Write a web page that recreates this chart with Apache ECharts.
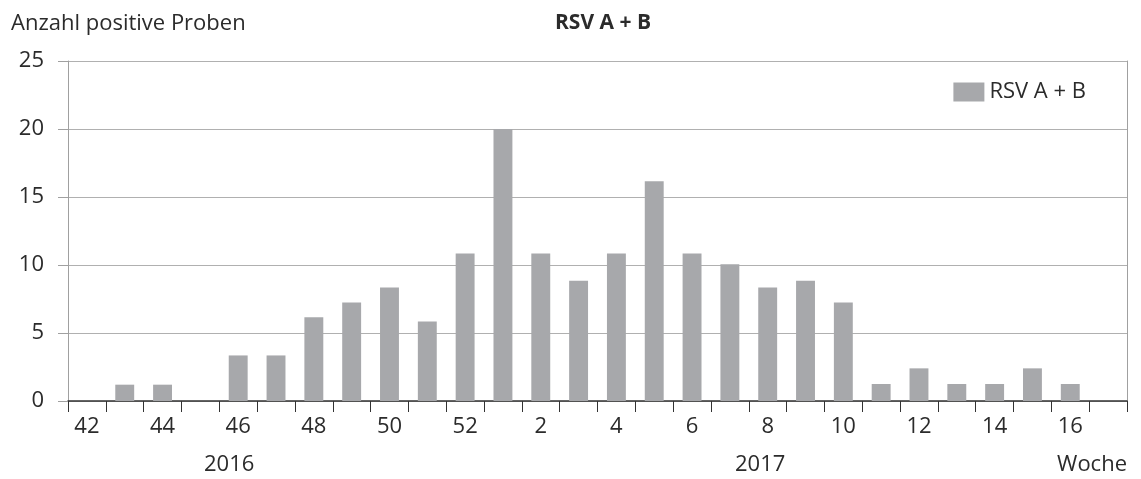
<!DOCTYPE html>
<html>
<head>
<meta charset="utf-8">
<script src="https://cdn.jsdelivr.net/npm/echarts@6/dist/echarts.min.js"></script>
<style>
  html, body { margin: 0; padding: 0; background: #fff; }
  #chart { width: 1141px; height: 479px; }
</style>
</head>
<body>
<div id="chart"></div>
<script>
// Kalenderwochen 42/2016 bis 17/2017
const weeks = ['42', '43', '44', '45', '46', '47', '48', '49', '50', '51', '52',
  '1', '2', '3', '4', '5', '6', '7', '8', '9', '10', '11', '12', '13', '14', '15', '16', '17'];
const rsvValues = [0, 1.2, 1.2, 0, 3.35, 3.35, 6.15, 7.25, 8.35, 5.85, 10.85,
  20, 10.85, 8.85, 10.85, 16.15, 10.85, 10.05, 8.35, 8.85, 7.25, 1.25, 2.4, 1.25, 1.25, 2.4, 1.25, 0];
const yTicks = [0, 5, 10, 15, 20, 25];
const yearLabels = ['2016', '2017'];

const FONT = '"Open Sans", sans-serif';
const TEXT = '#2b2b2b';
const FS = 22;

const chart = echarts.init(document.getElementById('chart'));

chart.setOption({
  animation: false,
  textStyle: { fontFamily: FONT },
  title: [
    {
      text: 'Anzahl positive Proben',
      left: 6, top: 8,
      textStyle: { fontFamily: FONT, fontSize: FS, fontWeight: 'normal', color: TEXT },
    },
    {
      text: 'RSV A + B',
      left: 550, top: 8,
      textStyle: { fontFamily: FONT, fontSize: 21, fontWeight: 'bold', color: TEXT },
    },
  ],
  legend: {
    data: ['RSV A + B'],
    right: 50, top: 76,
    itemWidth: 31, itemHeight: 19, itemGap: 10,
    icon: 'rect',
    textStyle: { fontFamily: FONT, fontSize: FS, color: TEXT },
  },
  grid: { left: 68, right: 14, top: 61, bottom: 78, containLabel: false },
  xAxis: {
    type: 'category',
    data: weeks,
    axisLine: { lineStyle: { color: '#333', width: 1.5 } },
    axisTick: { show: true, interval: 0, length: 11, lineStyle: { color: '#333' } },
    axisLabel: { interval: 1, margin: 15, fontSize: FS, color: TEXT, fontFamily: FONT },
    splitLine: { show: false },
  },
  yAxis: [
    {
      type: 'value',
      min: yTicks[0], max: yTicks[yTicks.length - 1], interval: 5,
      axisLine: { show: true, lineStyle: { color: '#a0a0a0' } },
      axisTick: { show: true, length: 10, lineStyle: { color: '#a0a0a0' } },
      axisLabel: { margin: 24, fontSize: FS, color: TEXT, fontFamily: FONT },
      splitLine: { lineStyle: { color: '#b0b0b0', width: 1.2 } },
    },
    {
      type: 'value',
      position: 'right',
      min: yTicks[0], max: yTicks[yTicks.length - 1], interval: 5,
      axisLine: { show: true, lineStyle: { color: '#a0a0a0' } },
      axisTick: { show: false },
      axisLabel: { show: false },
      splitLine: { show: false },
    },
  ],
  graphic: [
    { type: 'text', left: 204, top: 454, style: { text: yearLabels[0], font: FS + 'px ' + FONT, fill: TEXT } },
    { type: 'text', left: 735, top: 454, style: { text: yearLabels[1], font: FS + 'px ' + FONT, fill: TEXT } },
    { type: 'text', right: 14, top: 454, style: { text: 'Woche', font: FS + 'px ' + FONT, fill: TEXT } },
  ],
  series: [
    {
      name: 'RSV A + B',
      type: 'bar',
      data: rsvValues,
      barWidth: '50%',
      itemStyle: { color: '#a7a8ab' },
    },
  ],
});
</script>
</body>
</html>
